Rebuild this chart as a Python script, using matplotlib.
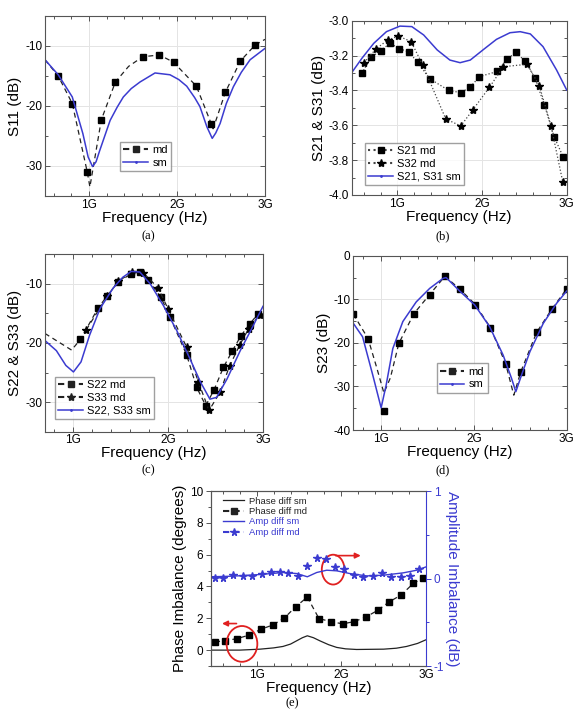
import matplotlib
matplotlib.use('Agg')
import matplotlib.pyplot as plt
from matplotlib.lines import Line2D
from matplotlib.patches import Ellipse
from matplotlib.ticker import MultipleLocator, FormatStrFormatter

plt.rcParams['font.family'] = ['Liberation Sans', 'DejaVu Sans']
plt.rcParams['axes.unicode_minus'] = False

BLUE = '#3b3bd0'

# ---- (a) S11 ----
s11_md_f = [0.65, 0.81, 0.98, 1.14, 1.30, 1.61, 1.80, 1.96, 2.22, 2.39, 2.55, 2.72, 2.89]
s11_md = [-15.0, -19.6, -31.0, -22.3, -16.0, -11.8, -11.5, -12.7, -16.7, -23.0, -17.7, -12.5, -9.8]
s11_md_line_f = [0.5, 0.65, 0.81, 0.98, 1.01, 1.14, 1.30, 1.45, 1.61, 1.80, 1.96, 2.22, 2.39, 2.41, 2.55, 2.72, 2.89, 3.0]
s11_md_line = [-12.3, -15.0, -19.6, -31.0, -33.5, -22.3, -16.0, -13.4, -11.8, -11.5, -12.7, -16.7, -23.0, -23.8, -17.7, -12.5, -9.8, -8.9]
s11_sm_f = [0.5, 0.65, 0.81, 0.93, 0.99, 1.04, 1.08, 1.12, 1.24, 1.32, 1.39, 1.48, 1.58, 1.75, 1.92, 2.02, 2.11, 2.20, 2.26,
            2.34, 2.40, 2.44, 2.49, 2.56, 2.64, 2.73, 2.83, 3.0]
s11_sm = [-12.3, -14.8, -18.5, -24.6, -28.5, -30.1, -29.3, -27.5, -22.4, -20.2, -18.5, -17.1, -16.0, -14.5, -14.8, -15.6, -16.7, -18.6,
          -20.1, -23.5, -25.4, -24.5, -22.9, -19.6, -16.8, -14.4, -12.3, -10.4]

# ---- (b) S21 / S31 ----
s21_md_f = [0.579, 0.689, 0.80, 0.913, 1.024, 1.134, 1.24, 1.38, 1.606, 1.748, 1.858, 1.969, 2.181, 2.291, 2.40, 2.51,
            2.626, 2.736, 2.85, 2.96]
s21_md = [-3.302, -3.21, -3.172, -3.13, -3.16, -3.18, -3.239, -3.333, -3.40, -3.413, -3.382, -3.321, -3.291, -3.222,
          -3.182, -3.233, -3.331, -3.482, -3.665, -3.784]
s32_md_f = [0.606, 0.748, 0.886, 1.012, 1.161, 1.299, 1.571, 1.748, 1.89, 2.087, 2.252, 2.535, 2.677, 2.815, 2.953]
s32_md = [-3.241, -3.161, -3.111, -3.088, -3.12, -3.254, -3.564, -3.604, -3.512, -3.382, -3.264, -3.25, -3.375,
          -3.604, -3.925]
s21_sm_f = [0.46, 0.58, 0.72, 0.87, 1.03, 1.17, 1.31, 1.47, 1.62, 1.74, 1.86, 2.02, 2.17, 2.33, 2.45, 2.57, 2.72, 2.88, 3.0]
s21_sm = [-3.298, -3.216, -3.13, -3.063, -3.031, -3.034, -3.082, -3.168, -3.226, -3.241, -3.226, -3.164, -3.107,
          -3.069, -3.063, -3.076, -3.149, -3.283, -3.398]

# ---- (c) S22 / S33 ----
s22_md_f = [1.074, 1.26, 1.353, 1.47, 1.611, 1.70, 1.788, 1.922, 2.018, 2.194, 2.30, 2.396, 2.484, 2.583, 2.678,
            2.767, 2.859, 2.947]
s22_md = [-19.4, -14.1, -12.1, -9.7, -8.3, -8.0, -9.4, -12.25, -15.6, -22.0, -27.5, -30.6, -27.9, -24.1, -21.3,
          -18.8, -16.8, -15.1]
s22_lead_f = [0.7, 0.85, 0.98]
s22_lead = [-18.4, -19.9, -21.2]
s33_md_f = [1.134, 1.357, 1.47, 1.622, 1.735, 1.894, 2.0, 2.194, 2.318, 2.431, 2.548, 2.647, 2.753, 2.848, 2.965]
s33_md = [-17.8, -12.1, -9.6, -8.0, -8.1, -10.7, -14.3, -20.7, -26.6, -31.4, -28.3, -23.9, -20.4, -17.6, -15.2]
s22_sm_f = [0.7, 0.82, 0.92, 1.0, 1.08, 1.17, 1.28, 1.42, 1.52, 1.61, 1.70, 1.81, 1.95, 2.09, 2.23, 2.34, 2.44,
            2.51, 2.62, 2.76, 2.88, 3.0]
s22_sm = [-19.6, -21.3, -23.8, -24.9, -23.2, -18.7, -14.2, -10.7, -8.9, -7.9, -8.0, -10.0, -13.7, -17.9, -22.7,
          -26.6, -29.5, -29.2, -26.1, -21.3, -17.6, -13.8]

# ---- (d) S23 ----
s23_md_f = [0.70, 0.859, 1.029, 1.191, 1.353, 1.523, 1.688, 1.85, 2.016, 2.178, 2.344, 2.506, 2.676, 2.838, 3.0]
s23_md = [-13.4, -19.0, -35.6, -20.1, -13.3, -8.9, -4.7, -7.7, -11.2, -16.5, -24.9, -26.6, -17.6, -12.3, -7.6]
s23_md_line_f = [0.70, 0.859, 0.95, 1.03, 1.10, 1.191, 1.353, 1.523, 1.688, 1.85, 2.016, 2.178, 2.344, 2.43, 2.506,
                 2.676, 2.838, 3.0]
s23_md_line = [-13.4, -19.0, -25.5, -31.5, -28.0, -20.1, -13.3, -8.9, -4.7, -7.7, -11.2, -16.5, -24.9, -32.0,
               -26.6, -17.6, -12.3, -7.6]
s23_sm_f = [0.70, 0.80, 0.91, 1.0, 1.054, 1.126, 1.234, 1.378, 1.523, 1.667, 1.70, 1.847, 2.009, 2.17, 2.315, 2.405,
            2.452, 2.513, 2.604, 2.748, 2.892, 3.0]
s23_sm = [-15.5, -18.6, -27.4, -34.9, -29.7, -21.3, -15.1, -10.6, -7.5, -5.2, -5.0, -8.1, -11.3, -16.3, -22.8, -28.1,
          -31.2, -27.4, -22.0, -15.5, -10.9, -8.1]

# ---- (e) imbalance ----
ph_md_f = [0.508, 0.626, 0.772, 0.909, 1.051, 1.189, 1.327, 1.461, 1.598, 1.736, 1.878, 2.016, 2.15, 2.29, 2.429,
           2.567, 2.705, 2.85, 2.969]
ph_md = [0.52, 0.58, 0.73, 0.94, 1.31, 1.58, 2.02, 2.73, 3.33, 1.98, 1.79, 1.65, 1.79, 2.08, 2.5, 3.04, 3.46, 4.19, 4.54]
ph_sm_f = [0.46, 0.8, 1.04, 1.2, 1.31, 1.4, 1.47, 1.54, 1.598, 1.67, 1.748, 1.85, 1.945, 2.05, 2.18, 2.5, 2.65, 2.77,
           2.9, 3.0]
ph_sm = [0.0, 0.0, 0.06, 0.14, 0.23, 0.38, 0.58, 0.78, 0.9, 0.78, 0.58, 0.34, 0.17, 0.08, 0.04, 0.06, 0.12, 0.23,
         0.42, 0.65]
amp_md_f = [0.508, 0.606, 0.724, 0.835, 0.941, 1.059, 1.165, 1.276, 1.374, 1.484, 1.591, 1.709, 1.819, 1.925, 2.035,
            2.15, 2.26, 2.37, 2.48, 2.59, 2.70, 2.81, 2.92]
amp_md = [0.01, 0.01, 0.04, 0.03, 0.03, 0.05, 0.07, 0.07, 0.06, 0.03, 0.145, 0.236, 0.22, 0.133, 0.107, 0.046, 0.023,
          0.03, 0.06, 0.023, 0.023, 0.03, 0.107]
amp_sm_f = [0.46, 0.72, 1.04, 1.315, 1.472, 1.598, 1.709, 1.827, 1.945, 2.1, 2.3, 2.496, 2.732, 2.89, 3.0]
amp_sm = [0.02, 0.027, 0.046, 0.069, 0.057, 0.02, 0.069, 0.095, 0.088, 0.057, 0.03, 0.038, 0.065, 0.095, 0.133]

freq_ticks = [1, 2, 3]
freq_labels = ['1G', '2G', '3G']


def style(ax, xlim, ylim, ymaj, ymin, ylabel, tickdir='in'):
    ax.set_xlim(xlim)
    ax.set_ylim(ylim)
    ax.set_xticks(freq_ticks)
    ax.set_xticklabels(freq_labels)
    ax.xaxis.set_minor_locator(MultipleLocator(0.2))
    ax.yaxis.set_major_locator(MultipleLocator(ymaj))
    ax.yaxis.set_minor_locator(MultipleLocator(ymin))
    ax.grid(True, which='major', color='#e4e4e4', lw=0.7)
    ax.set_axisbelow(True)
    ax.tick_params(which='both', direction=tickdir, top=True, right=True, labelsize=8.5,
                   color='#555555', width=0.7, pad=2)
    ax.tick_params(which='major', length=3.5)
    ax.tick_params(which='minor', length=2)
    for s in ax.spines.values():
        s.set_color('#555555')
        s.set_linewidth(0.8)
    ax.set_xlabel('Frequency (Hz)', fontsize=11, labelpad=0)
    ax.set_ylabel(ylabel, fontsize=11, labelpad=2)


fig = plt.figure(figsize=(5.83, 7.16), dpi=100)

leg_kw = dict(fontsize=8, frameon=True, fancybox=False, edgecolor='#888888', borderpad=0.3,
              labelspacing=0.25, handlelength=2.2, handletextpad=0.4, borderaxespad=0)

# (a)
ax = fig.add_axes([0.0772, 0.7263, 0.3774, 0.2514])
ax.plot(s11_md_line_f, s11_md_line, color='#222222', ls=(0, (4, 3)), lw=0.9)
ax.plot(s11_md_f, s11_md, 's', color='black', ms=4.5)
ax.plot(s11_sm_f, s11_sm, color=BLUE, lw=1.1)
style(ax, (0.5, 3.0), (-35, -5), 10, 5, 'S11 (dB)')
h = [Line2D([], [], color='#222222', ls=(0, (3, 2)), marker='s', ms=4.5),
     Line2D([], [], color=BLUE, lw=1.1, marker='.', ms=2)]
ax.legend(h, ['md', 'sm'], loc='upper left', bbox_to_anchor=(0.341, 0.302), **leg_kw)

# (b)
ax = fig.add_axes([0.6033, 0.7277, 0.3688, 0.2434])
ax.plot(s21_md_f, s21_md, color='#444444', ls=':', lw=0.9, marker='s', ms=4.5, mfc='black', mec='black')
ax.plot(s32_md_f, s32_md, color='#444444', ls=':', lw=0.9, marker='*', ms=6, mfc='black', mec='black')
ax.plot(s21_sm_f, s21_sm, color=BLUE, lw=1.1)
style(ax, (0.46, 3.0), (-4.0, -3.0), 0.2, 0.1, 'S21 & S31 (dB)')
ax.yaxis.set_major_formatter(FormatStrFormatter('%.1f'))
h = [Line2D([], [], color='#444444', ls=':', marker='s', ms=4.5, mfc='black', mec='black'),
     Line2D([], [], color='#444444', ls=':', marker='*', ms=6, mfc='black', mec='black'),
     Line2D([], [], color=BLUE, lw=1.1, marker='.', ms=2)]
ax.legend(h, ['S21 md', 'S32 md', 'S21, S31 sm'], loc='upper left', bbox_to_anchor=(0.062, 0.30), **leg_kw)

# (c)
ax = fig.add_axes([0.0772, 0.3971, 0.3739, 0.2478])
ax.plot(s22_lead_f + s22_md_f, s22_lead + s22_md, color='#222222', ls=(0, (4, 3)), lw=0.9)
ax.plot(s22_md_f, s22_md, 's', color='black', ms=4.5)
ax.plot(s33_md_f, s33_md, color='#222222', ls=(0, (4, 3)), lw=0.9, marker='*', ms=6, mfc='black', mec='black')
ax.plot(s22_sm_f, s22_sm, color=BLUE, lw=1.1)
style(ax, (0.7, 3.0), (-35, -5), 10, 5, 'S22 & S33 (dB)')
h = [Line2D([], [], color='#222222', ls=(0, (3, 2)), marker='s', ms=4.5),
     Line2D([], [], color='#222222', ls=(0, (3, 2)), marker='*', ms=6),
     Line2D([], [], color=BLUE, lw=1.1, marker='.', ms=2)]
ax.legend(h, ['S22 md', 'S33 md', 'S22, S33 sm'], loc='upper left', bbox_to_anchor=(0.046, 0.31), **leg_kw)

# (d)
ax = fig.add_axes([0.606, 0.3994, 0.366, 0.2434])
ax.plot(s23_md_line_f, s23_md_line, color='#222222', ls=(0, (4, 3)), lw=0.9)
ax.plot(s23_md_f, s23_md, 's', color='black', ms=4.5)
ax.plot(s23_sm_f, s23_sm, color=BLUE, lw=1.1)
style(ax, (0.7, 3.0), (-40, 0), 10, 5, 'S23 (dB)')
h = [Line2D([], [], color='#222222', ls=(0, (3, 2)), marker='s', ms=4.5),
     Line2D([], [], color=BLUE, lw=1.1, marker='.', ms=2)]
ax.legend(h, ['md', 'sm'], loc='upper left', bbox_to_anchor=(0.39, 0.383), **leg_kw)

# (e)
ax = fig.add_axes([0.3619, 0.0698, 0.3688, 0.2444])
ax.plot(ph_sm_f, ph_sm, color='#222222', lw=0.9)
ax.plot(ph_md_f, ph_md, color='#222222', ls=(0, (4, 3)), lw=0.9, marker='s', ms=4.5, mfc='black', mec='black')
style(ax, (0.46, 3.0), (-1, 10), 2, 1, 'Phase Imbalance (degrees)', tickdir='out')
ax.tick_params(right=False, top=False)
ax.tick_params(axis='x', which='both', direction='in', top=True)
ax.grid(False)
ax.spines['right'].set_visible(False)
ax2 = ax.twinx()
ax2.plot(amp_sm_f, amp_sm, color=BLUE, lw=1.0)
ax2.plot(amp_md_f, amp_md, '*', color=BLUE, ms=5.5)
ax2.set_ylim(-1, 1)
ax2.yaxis.set_major_locator(MultipleLocator(1))
ax2.yaxis.set_minor_locator(MultipleLocator(0.5))
ax2.tick_params(which='both', direction='out', colors=BLUE, labelsize=8.5, width=0.7, pad=2)
ax2.tick_params(which='major', length=3.5)
ax2.tick_params(which='minor', length=2)
for k, s in ax2.spines.items():
    s.set_color('#555555')
    s.set_linewidth(0.8)
ax2.spines['right'].set_color(BLUE)
ax2.set_ylabel('Amplitude Imbalance (dB)', fontsize=11, color=BLUE, rotation=270, labelpad=11)

h = [Line2D([], [], color='#222222', lw=0.9),
     Line2D([], [], color='#222222', ls=(0, (3, 2)), marker='s', ms=4),
     Line2D([], [], color=BLUE, lw=1.0),
     Line2D([], [], color=BLUE, ls=(0, (3, 2)), marker='*', ms=5.5)]
leg = ax2.legend(h, ['Phase diff sm', 'Phase diff md', 'Amp diff sm', 'Amp diff md'], loc='upper left',
                 bbox_to_anchor=(0.04, 0.99), frameon=False, fontsize=6.8, labelspacing=0.15,
                 handlelength=2.2, handletextpad=0.5, borderaxespad=0)
for t, c in zip(leg.get_texts(), ['#222222', '#222222', BLUE, BLUE]):
    t.set_color(c)

# red markers on (e)
ax.add_patch(Ellipse((0.826, 0.39), 0.363, 2.25, fill=False, color='#e02020', lw=1.3, zorder=5))
ax.add_patch(Ellipse((1.903, 5.06), 0.268, 1.875, fill=False, color='#e02020', lw=1.3, zorder=5))
ax.annotate('', xy=(0.558, 1.67), xytext=(0.794, 1.67),
            arrowprops=dict(arrowstyle='-|>', color='#e02020', lw=1.2, mutation_scale=8))
ax.annotate('', xy=(2.262, 5.94), xytext=(1.9, 5.94),
            arrowprops=dict(arrowstyle='-|>', color='#e02020', lw=1.2, mutation_scale=8))

# captions
for txt, x, y in [('(a)', 148, 236), ('(b)', 443, 236), ('(c)', 148, 470), ('(d)', 443, 470), ('(e)', 292, 703)]:
    fig.text(x / 583, 1 - y / 716, txt, ha='center', va='center', fontsize=9, family='Liberation Serif')

fig.savefig('out.png', dpi=100)
